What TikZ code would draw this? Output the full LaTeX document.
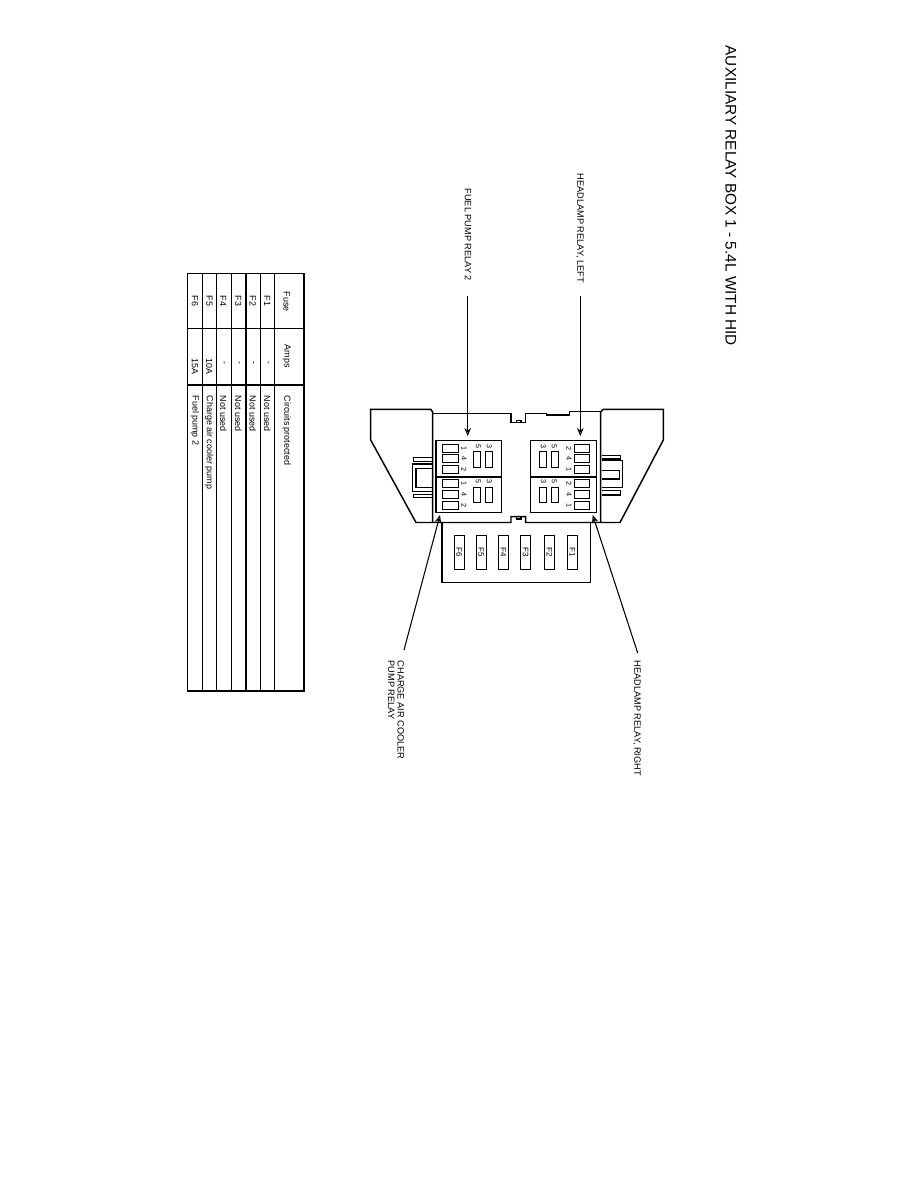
\documentclass[tikz,border=0pt]{standalone}
\usepackage{fontspec}
\setmainfont{Liberation Sans}
\usepackage{tikz}
\usetikzlibrary{arrows.meta}

\tikzset{
  vtext/.style={rotate=-90, anchor=west, inner sep=0pt, font=\fontsize{6.9}{7.2}\selectfont},
  celltext/.style={rotate=-90, anchor=west, inner sep=0pt, font=\fontsize{6.7}{7}\selectfont},
  pinlabel/.style={rotate=-90, inner sep=0pt, font=\fontsize{5.4}{5.4}\selectfont},
  fuselabel/.style={draw, line width=0.8pt, rotate=-90, minimum width=25pt, minimum height=7.5pt, inner sep=0pt, font=\fontsize{6}{6}\selectfont},
  pinbox/.style={draw, line width=0.8pt, minimum width=11.7pt, minimum height=6pt, inner sep=0pt},
  tallbox/.style={draw, line width=0.8pt, minimum width=5.2pt, minimum height=11.7pt, inner sep=0pt},
  pointer/.style={draw, line width=0.8pt, -{Stealth[open, length=6pt, width=5pt]}},
}

\begin{document}
\begin{tikzpicture}[x=0.75pt, y=-0.75pt, line width=1.1pt]
  \useasboundingbox (0,0) rectangle (918,1188);

  % Title
  \node[rotate=-90, anchor=west, inner sep=0pt, font=\fontsize{11.5}{12}\selectfont] (title) at (731,45) {AUXILIARY RELAY BOX 1 - 5.4L WITH HID};

  % Draw the box outline
  \draw (432.7,522.5) -- (432.7,412) -- (430.7,409.3) -- (370.7,409.3) -- (370.7,440) -- (416,522.5) -- (511,522.5) -- (511,516.7) -- (525.7,516.7) -- (525.7,522.5) -- (620,522.5) -- (663.3,440) -- (663.3,409.3) -- (603.3,409.3) -- (600.7,412) -- (600.7,522.5);
  \draw (432.7,413.3) -- (511,413.3) -- (511,422.7) -- (525.7,422.7) -- (525.7,413.3) -- (546.7,413.3) -- (546.7,415) -- (569.3,415) -- (569.3,411.7) -- (600.7,411.7);
  \draw (516.7,422.7) -- (516.7,420.7) -- (521,420.7) -- (521,422.7);
  \draw (516.7,516.7) -- (516.7,519) -- (521,519) -- (521,516.7);

  % Side connectors
  \draw (431.7,457.3) -- (413.3,457.3) -- (413.3,461.3) -- (431.7,461.3);
  \draw (431.7,464) -- (412.7,464) -- (412.7,491.7) -- (431.7,491.7);
  \draw (431.7,468.3) -- (416,468.3) -- (416,487.3) -- (431.7,487.3);
  \draw (431.7,494.3) -- (413.3,494.3) -- (413.3,497.7) -- (431.7,497.7);
  \draw (601.7,455.7) -- (620.7,455.7) -- (620.7,459) -- (601.7,459);
  \draw (601.7,460.7) -- (622.3,460.7) -- (622.3,487.3) -- (601.7,487.3);
  \draw (601.7,470.7) -- (619.3,470.7) -- (619.3,479) -- (601.7,479);
  \draw (601.7,490.7) -- (620.7,490.7) -- (620.7,495) -- (601.7,495);

  % Relay blocks
  \draw (436,440.7) rectangle (501.7,512.3);
  \draw (436,477) -- (501.7,477);
  \draw (530.7,440.7) rectangle (596.7,512.3);
  \draw (530.7,477) -- (596.7,477);

  % Fuel pump relay pins
  \node[pinbox] (a1) at (450.3,448.2) {};
  \node[pinbox] (a4) at (450.3,458.5) {};
  \node[pinbox] (a2) at (450.3,469.3) {};
  \node[pinbox] (b1) at (450.3,483.3) {};
  \node[pinbox] (b4) at (450.3,494.7) {};
  \node[pinbox] (b2) at (450.3,505.2) {};
  \node[tallbox] (a5) at (477,459.5) {};
  \node[tallbox] (a3) at (488.8,459.5) {};
  \node[tallbox] (b5) at (477,495) {};
  \node[tallbox] (b3) at (488.8,495) {};
  \node[pinlabel] at (464,448.7) {1};
  \node[pinlabel] at (464,458) {4};
  \node[pinlabel] at (464,469) {2};
  \node[pinlabel] at (464,483) {1};
  \node[pinlabel] at (464,494.7) {4};
  \node[pinlabel] at (464,505) {2};
  \node[pinlabel] at (478.3,446) {5};
  \node[pinlabel] at (489.3,446) {3};
  \node[pinlabel] at (478.3,481.7) {5};
  \node[pinlabel] at (489.3,481.7) {3};

  % Headlamp relay pins
  \node[pinbox] (c2) at (582,448.2) {};
  \node[pinbox] (c4) at (582,458.5) {};
  \node[pinbox] (c1) at (582,469.3) {};
  \node[pinbox] (d2) at (582,483.3) {};
  \node[pinbox] (d4) at (582,494.7) {};
  \node[pinbox] (d1) at (582,505.2) {};
  \node[tallbox] (c3) at (543.2,459.5) {};
  \node[tallbox] (c5) at (554.7,459.5) {};
  \node[tallbox] (d3) at (543.2,495) {};
  \node[tallbox] (d5) at (554.7,495) {};
  \node[pinlabel] at (569,448.7) {2};
  \node[pinlabel] at (569,458) {4};
  \node[pinlabel] at (569,469) {1};
  \node[pinlabel] at (569,483) {2};
  \node[pinlabel] at (569,494.7) {4};
  \node[pinlabel] at (569,505) {1};
  \node[pinlabel] at (543.3,446) {3};
  \node[pinlabel] at (554.3,446) {5};
  \node[pinlabel] at (543.3,481.7) {3};
  \node[pinlabel] at (554.3,481.7) {5};

  % Fuse block
  \draw (442,522.7) -- (442,582.7) -- (590.3,582.7) -- (590.3,522.7);
  \node[fuselabel] (F6) at (459.2,552.5) {F6};
  \node[fuselabel] (F5) at (481.2,552.5) {F5};
  \node[fuselabel] (F4) at (503.3,552.5) {F4};
  \node[fuselabel] (F3) at (525.5,552.5) {F3};
  \node[fuselabel] (F2) at (549.5,552.5) {F2};
  \node[fuselabel] (F1) at (572.3,552.5) {F1};

  % Callouts
  \node[vtext] (fuel) at (468,188) {FUEL PUMP RELAY 2};
  \node[vtext] (left) at (580,173) {HEADLAMP RELAY, LEFT};
  \node[vtext, align=left] (charge) at (396,660) {CHARGE AIR COOLER\\PUMP RELAY};
  \node[vtext] (right) at (637,660) {HEADLAMP RELAY, RIGHT};

  \coordinate (fuelend) at (467.7,296);
  \coordinate (fueltip) at (467.7,436);
  \coordinate (leftend) at (580.3,296);
  \coordinate (lefttip) at (580.3,436);
  \coordinate (chargeend) at (404,650);
  \coordinate (chargetip) at (440,515);
  \coordinate (rightend) at (637.7,653);
  \coordinate (righttip) at (592.7,515);
  \draw[pointer] (fuelend) -- (fueltip);
  \draw[pointer] (leftend) -- (lefttip);
  \draw[pointer] (chargeend) -- (chargetip);
  \draw[pointer] (rightend) -- (righttip);

  % Fuse table
  \draw[line width=1.2pt] (187.3,273.3) rectangle (304,691);
  \draw[line width=0.8pt] (202.3,273.3) -- (202.3,691);
  \draw[line width=0.8pt] (216.7,273.3) -- (216.7,691);
  \draw[line width=0.8pt] (231.7,273.3) -- (231.7,691);
  \draw[line width=0.8pt] (246,273.3) -- (246,691);
  \draw[line width=0.8pt] (260.3,273.3) -- (260.3,691);
  \draw (274.3,273.3) -- (274.3,691);
  \draw (187.3,328.3) -- (304,328.3);
  \draw (187.3,385) -- (304,385);

  \node[celltext] (h1) at (286.7,291) {Fuse};
  \node[celltext] (h2) at (286.7,344) {Amps};
  \node[celltext] (h3) at (286.7,395) {Circuits protected};
  \node[celltext] (r11) at (267.3,295) {F1};
  \node[celltext] (r12) at (267.3,361) {-};
  \node[celltext] (r13) at (267.3,395) {Not used};
  \node[celltext] (r21) at (252.7,295) {F2};
  \node[celltext] (r22) at (252.7,361) {-};
  \node[celltext] (r23) at (252.7,395) {Not used};
  \node[celltext] (r31) at (238.3,295) {F3};
  \node[celltext] (r32) at (238.3,361) {-};
  \node[celltext] (r33) at (238.3,395) {Not used};
  \node[celltext] (r41) at (223.3,295) {F4};
  \node[celltext] (r42) at (223.3,361) {-};
  \node[celltext] (r43) at (223.3,395) {Not used};
  \node[celltext] (r51) at (209.3,295) {F5};
  \node[celltext] (r52) at (209.3,358) {10A};
  \node[celltext] (r53) at (209.3,395) {Charge air cooler pump};
  \node[celltext] (r61) at (195,295) {F6};
  \node[celltext] (r62) at (195,358) {15A};
  \node[celltext] (r63) at (195,395) {Fuel pump 2};
\end{tikzpicture}
\end{document}
